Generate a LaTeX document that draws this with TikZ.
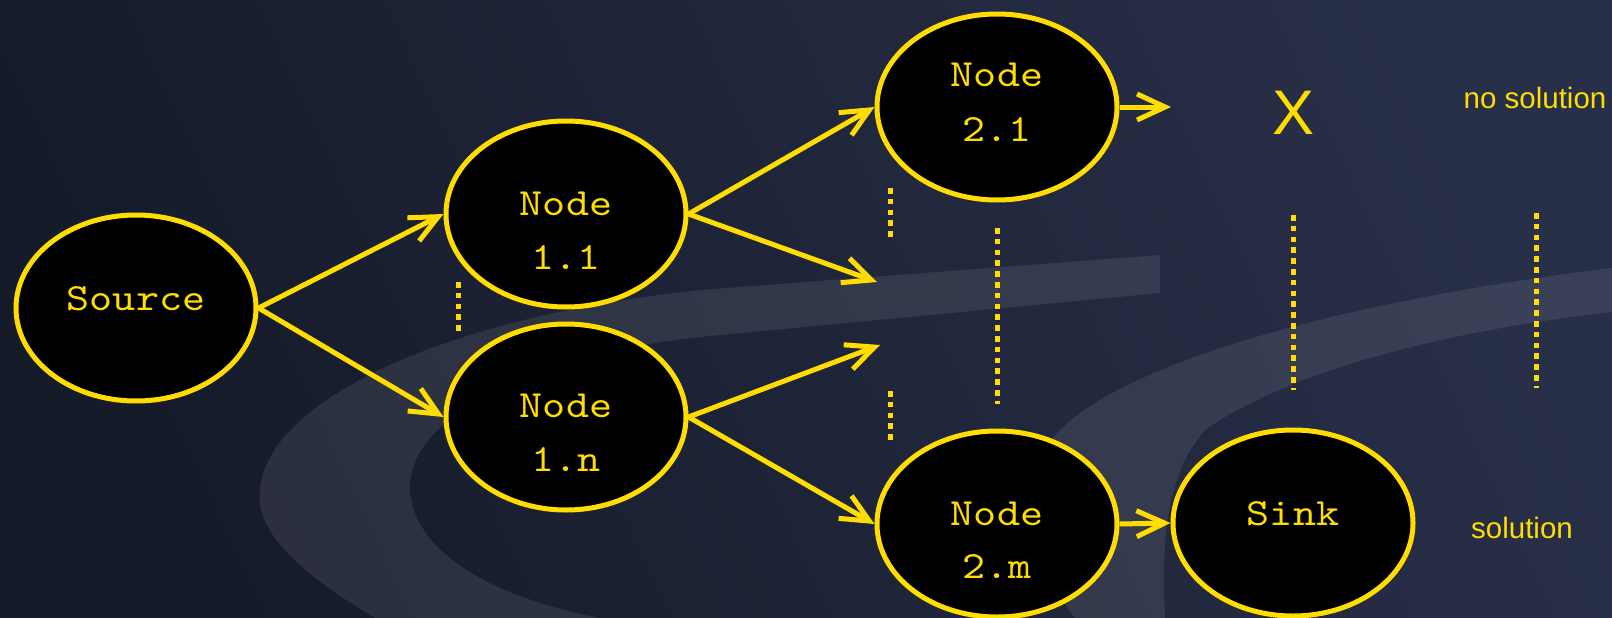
\documentclass[tikz,border=0pt]{standalone}
\usepackage{fontspec}
\newfontfamily\monofont[FakeStretch=1.14]{lmmono10-regular.otf}
\newfontfamily\sansfont{Liberation Sans}
\usetikzlibrary{arrows.meta,shapes.geometric}
\definecolor{gold}{RGB}{255,221,0}
\definecolor{bglight}{RGB}{40,47,72}
\definecolor{bgdark}{RGB}{22,27,42}

\begin{document}
\begin{tikzpicture}[x=1pt,y=-1pt,
  state/.style={ellipse, draw=gold, fill=black, line width=5pt,
    minimum width=240pt, minimum height=186pt, inner sep=0pt},
  lbl/.style={text=gold, font=\monofont\fontsize{38.5}{38.5}\selectfont,
    anchor=base, inner sep=0pt},
  note/.style={text=gold, font=\sansfont\fontsize{29.5}{30}\selectfont,
    anchor=base, inner sep=0pt},
  cross/.style={text=gold, font=\sansfont\fontsize{63}{63}\selectfont,
    anchor=base, inner sep=0pt},
  link/.style={draw=gold, line width=5pt,
    -{Straight Barb[length=28pt,width=26pt,sharp]}},
  dots/.style={draw=gold, line width=5pt, dash pattern=on 5.5pt off 5.3pt},
  swoosh/.style={fill=white, fill opacity=0.085}
]
\useasboundingbox (0,0) rectangle (1612,618);

% backdrop
\shade[shading=axis, top color=bglight, bottom color=bgdark, shading angle=-65]
  (0,0) rectangle (1612,618);

% light swooshes
\fill[swoosh] (1160,255) -- (1160,293) -- (700,337)
  .. controls (520,357) and (410,420) .. (410,487)
  .. controls (410,545) and (480,595) .. (600,618)
  -- (375,618)
  .. controls (295,570) and (255,530) .. (260,490)
  .. controls (265,410) and (420,320) .. (700,290) -- cycle;
\fill[swoosh] (1612,268)
  .. controls (1350,300) and (1130,360) .. (1060,430)
  .. controls (1020,470) and (1030,560) .. (1075,618)
  -- (1165,618)
  .. controls (1160,530) and (1170,470) .. (1205,430)
  .. controls (1290,370) and (1450,330) .. (1612,312) -- cycle;

% states
\node[state] (src)  at (136,308)  {};
\node[state] (n11)  at (566,214)  {};
\node[state] (n1n)  at (566,417)  {};
\node[state] (n21)  at (997,107)  {};
\node[state] (n2m)  at (997,524)  {};
\node[state] (sink) at (1293,523) {};

% state labels
\node[lbl] (tsrc)  at (136,310)  {Source};
\node[lbl] (t11a)  at (566,215)  {Node};
\node[lbl] (t11b)  at (566,269)  {1.1};
\node[lbl] (t1na)  at (566,417)  {Node};
\node[lbl] (t1nb)  at (566,471)  {1.n};
\node[lbl] (t21a)  at (997,87)   {Node};
\node[lbl] (t21b)  at (997,141)  {2.1};
\node[lbl] (t2ma)  at (997,525)  {Node};
\node[lbl] (t2mb)  at (997,578)  {2.m};
\node[lbl] (tsink) at (1293,525) {Sink};

% outcomes
\node[cross] (fail)  at (1293.5,134) {X};
\node[note]  (nosol) at (1535,108)  {no solution};
\node[note]  (sol)   at (1522,538)  {solution};

% loose arrow ends
\coordinate (e11) at (877,282);
\coordinate (e1n) at (880,345);
\coordinate (e21) at (1171,107);

% edges
\draw[link] (src.east) -- (n11.west);
\draw[link] (src.east) -- (n1n.west);
\draw[link] (n11.east) -- (n21.west);
\draw[link] (n11.east) -- (e11);
\draw[link] (n1n.east) -- (e1n);
\draw[link] (n1n.east) -- (n2m.west);
\draw[link] (n21.east) -- (e21);
\draw[link] (n2m.east) -- (sink.west);

% elision marks
\coordinate (d1a) at (458,282);  \coordinate (d1b) at (458,331);
\coordinate (d2a) at (890,188);  \coordinate (d2b) at (890,237);
\coordinate (d3a) at (890,391);  \coordinate (d3b) at (890,440);
\coordinate (d4a) at (997,228);  \coordinate (d4b) at (997,404);
\coordinate (d5a) at (1293,215); \coordinate (d5b) at (1293,390);
\coordinate (d6a) at (1536,213); \coordinate (d6b) at (1536,388);
\draw[dots] (d1a) -- (d1b);
\draw[dots] (d2a) -- (d2b);
\draw[dots] (d3a) -- (d3b);
\draw[dots] (d4a) -- (d4b);
\draw[dots] (d5a) -- (d5b);
\draw[dots] (d6a) -- (d6b);
\end{tikzpicture}
\end{document}
